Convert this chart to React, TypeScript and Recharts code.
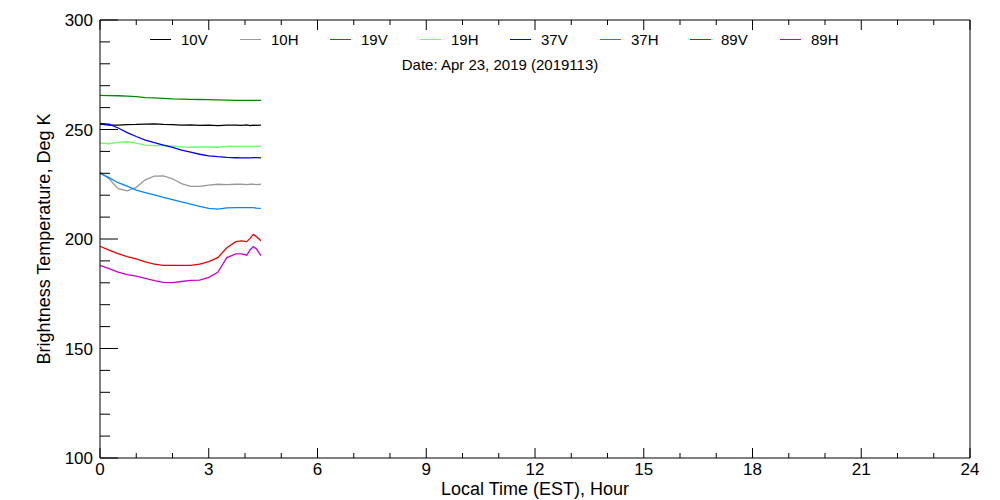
import { Line, LineChart, XAxis, YAxis } from "recharts";

// hours since local midnight (EST)
const hours = [
  0, 0.25, 0.5, 0.75, 1, 1.25, 1.5, 1.75, 2, 2.25, 2.5, 2.75, 3, 3.25, 3.5,
  3.75, 3.9, 4.05, 4.14, 4.23, 4.32, 4.44,
];

const tb10V = [
  252.5, 252, 252, 252.2, 252.3, 252.5, 252.6, 252.3, 252.2, 252, 252.1,
  251.9, 252, 251.8, 252, 252, 251.9, 252.1, 251.8, 252, 251.9, 252,
];
const tb10H = [
  230.5, 227.5, 223, 222, 223.6, 227, 228.7, 228.8, 227.5, 225.3, 224, 224,
  224.6, 225, 224.8, 225, 225, 224.8, 225, 225, 224.8, 225,
];
const tb19V = [
  265.6, 265.5, 265.4, 265.2, 265, 264.6, 264.4, 264.2, 264, 263.9, 263.8,
  263.7, 263.6, 263.5, 263.4, 263.3, 263.3, 263.3, 263.3, 263.3, 263.3, 263.3,
];
const tb19H = [
  243.8, 243.5, 244.1, 244.4, 243.8, 242.9, 242.6, 242.8, 242.4, 242.1, 241.9,
  242, 242, 241.9, 242.3, 242.3, 242.3, 242.3, 242.3, 242.3, 242.3, 242.3,
];
const tb37V = [
  252.8, 252.4, 250.7, 248.6, 246.8, 245.2, 244, 242.9, 241.8, 240.6, 239.7,
  238.7, 238, 237.6, 237.3, 237.1, 237, 237, 237, 237.2, 237.2, 237,
];
const tb37H = [
  230, 228, 225.7, 224.1, 222.3, 221.2, 220.1, 219, 218, 217, 215.9, 214.9,
  214, 213.6, 214.2, 214.3, 214.3, 214.3, 214.3, 214.3, 214.1, 214,
];
const tb89V = [
  196.7, 194.9, 193.3, 192, 190.9, 189.6, 188.5, 188, 188, 188, 188, 188.5,
  189.7, 191.5, 196, 198.8, 199.1, 198.8, 200.3, 202.1, 201, 199.2,
];
const tb89H = [
  188, 186.5, 184.9, 183.7, 183, 182, 181, 180.2, 180.1, 180.6, 181.1, 181.2,
  182.5, 184.8, 191.5, 193.2, 193.2, 192.6, 195, 196.5, 195.4, 192.4,
];

const channels = [
  { key: "10V", values: tb10V, color: "#000000" },
  { key: "10H", values: tb10H, color: "#999999" },
  { key: "19V", values: tb19V, color: "#008800" },
  { key: "19H", values: tb19H, color: "#66ff66" },
  { key: "37V", values: tb37V, color: "#0000ee" },
  { key: "37H", values: tb37H, color: "#0088ff" },
  { key: "89V", values: tb89V, color: "#ee0000" },
  { key: "89H", values: tb89H, color: "#cc00cc" },
];

const xTicks = Array.from({ length: 25 }, (_, i) => i);
const yTicks = Array.from({ length: 21 }, (_, i) => 100 + i * 10);

const dateLabel = "Date: Apr 23, 2019 (2019113)";

const data = hours.map((hour, i) => {
  const row: Record<string, number> = { hour };
  channels.forEach((c) => {
    row[c.key] = c.values[i];
  });
  return row;
});

const FONT = "'Liberation Sans', Arial, sans-serif";

function BottomTick(props: any) {
  const { x, y, payload } = props;
  const major = payload.value % 3 === 0;
  return (
    <g>
      <line x1={x} x2={x} y1={y} y2={y - (major ? 10 : 5)} stroke="#000" />
      {major ? (
        <text
          x={x}
          y={y + 17}
          textAnchor="middle"
          fontSize={17}
          fontFamily={FONT}
          fill="#000"
        >
          {payload.value}
        </text>
      ) : null}
    </g>
  );
}

function TopTick(props: any) {
  const { x, y, payload } = props;
  const major = payload.value % 3 === 0;
  return <line x1={x} x2={x} y1={y} y2={y + (major ? 10 : 5)} stroke="#000" />;
}

function LeftTick(props: any) {
  const { x, y, payload } = props;
  const major = payload.value % 50 === 0;
  return (
    <g>
      <line x1={x} x2={x + (major ? 18 : 10)} y1={y} y2={y} stroke="#000" />
      {major ? (
        <text
          x={x - 7}
          y={y + 6}
          textAnchor="end"
          fontSize={17}
          fontFamily={FONT}
          fill="#000"
        >
          {payload.value}
        </text>
      ) : null}
    </g>
  );
}

function RightTick(props: any) {
  const { x, y, payload } = props;
  const major = payload.value % 50 === 0;
  return <line x1={x} x2={x - (major ? 18 : 10)} y1={y} y2={y} stroke="#000" />;
}

export default function App() {
  return (
    <div
      style={{
        position: "absolute",
        left: 0,
        top: 0,
        width: 1000,
        height: 500,
        background: "#fff",
        fontFamily: FONT,
      }}
    >
      <LineChart
        width={1000}
        height={500}
        data={data}
        margin={{ top: 19, right: 29, bottom: 0, left: 0 }}
      >
        <XAxis
          dataKey="hour"
          type="number"
          domain={[0, 24]}
          ticks={xTicks}
          interval={0}
          height={42}
          tickSize={0}
          tickMargin={0}
          tickLine={false}
          tick={<BottomTick />}
          axisLine={{ stroke: "#000" }}
          label={{
            value: "Local Time (EST), Hour",
            position: "insideBottom",
            offset: 5,
            fontSize: 18,
            fontFamily: FONT,
            fill: "#000",
          }}
        />
        <XAxis
          xAxisId="top"
          orientation="top"
          dataKey="hour"
          type="number"
          domain={[0, 24]}
          ticks={xTicks}
          interval={0}
          height={1}
          tickSize={0}
          tickMargin={0}
          tickLine={false}
          tick={<TopTick />}
          axisLine={{ stroke: "#000" }}
        />
        <YAxis
          type="number"
          domain={[100, 300]}
          ticks={yTicks}
          interval={0}
          width={100}
          tickSize={0}
          tickMargin={0}
          tickLine={false}
          tick={<LeftTick />}
          axisLine={{ stroke: "#000" }}
          label={{
            value: "Brightness Temperature, Deg K",
            angle: -90,
            position: "insideLeft",
            offset: 44,
            style: { textAnchor: "middle" },
            fontSize: 18,
            fontFamily: FONT,
            fill: "#000",
          }}
        />
        <YAxis
          yAxisId="right"
          orientation="right"
          type="number"
          domain={[100, 300]}
          ticks={yTicks}
          interval={0}
          width={1}
          tickSize={0}
          tickMargin={0}
          tickLine={false}
          tick={<RightTick />}
          axisLine={{ stroke: "#000" }}
        />
        {channels.map((c) => (
          <Line
            key={c.key}
            dataKey={c.key}
            type="linear"
            stroke={c.color}
            strokeWidth={1.3}
            dot={false}
            isAnimationActive={false}
          />
        ))}
      </LineChart>

      {channels.map((c, i) => (
        <div
          key={c.key}
          style={{
            position: "absolute",
            left: 150 + i * 90,
            top: 30,
            height: 18,
            display: "flex",
            alignItems: "center",
            fontSize: 15,
            color: "#000",
          }}
        >
          <span
            style={{
              display: "inline-block",
              width: 21,
              height: 0,
              borderTop: `1px solid ${c.color}`,
            }}
          />
          <span style={{ marginLeft: 10 }}>{c.key}</span>
        </div>
      ))}
      <div
        style={{
          position: "absolute",
          left: 0,
          top: 56,
          width: 1000,
          textAlign: "center",
          fontSize: 15,
          color: "#000",
        }}
      >
        {dateLabel}
      </div>
    </div>
  );
}
